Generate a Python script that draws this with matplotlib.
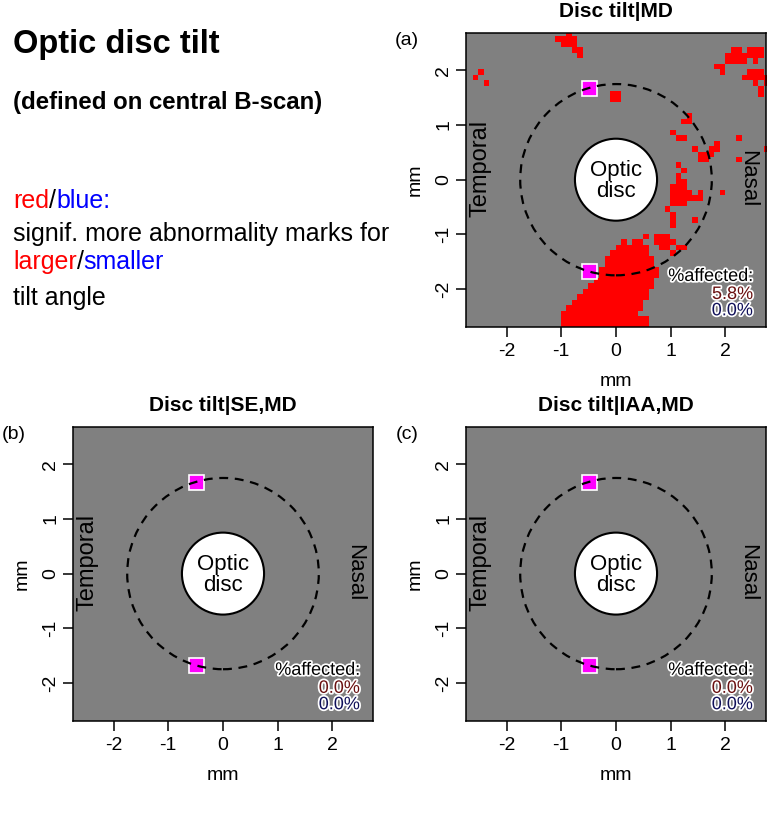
import numpy as np
import matplotlib

matplotlib.use("Agg")
import matplotlib.pyplot as plt  # noqa: E402
from matplotlib.colors import ListedColormap  # noqa: E402
from matplotlib.patches import Circle  # noqa: E402
import matplotlib.patheffects as pe  # noqa: E402

plt.rcParams["font.family"] = ["Liberation Sans", "DejaVu Sans"]

W, H = 769, 825

# panel contents
PANEL_TITLES = ["Disc tilt|MD", "Disc tilt|SE,MD", "Disc tilt|IAA,MD"]
PANEL_LABELS = ["(a)", "(b)", "(c)"]
PCT_RED = ["5.8%", "0.0%", "0.0%"]
PCT_BLUE = ["0.0%", "0.0%", "0.0%"]
TICKS = [-2, -1, 0, 1, 2]

# measurement ring, optic disc and B-scan end points (mm)
RING_RADIUS = 1.75
DISC_RADIUS = 0.75
SCAN_X = [-0.49, -0.49]
SCAN_Y = [1.67, -1.67]

# significant cells for panel (a), 0.1 mm grid: (row from top, first col, last col)
GRID_X0, GRID_Y0, CELL = -2.62, 2.71, 0.1
GRID_ROWS, GRID_COLS = 54, 56
RED_RUNS = [
    (0, 17, 17), (1, 15, 18), (2, 16, 18), (3, 18, 19), (4, 19, 19),
    (7, 1, 1), (8, 0, 0), (9, 2, 2),
    (11, 25, 26), (12, 25, 26),
    (3, 47, 48), (3, 50, 52), (4, 46, 52), (5, 46, 49), (5, 51, 51),
    (6, 44, 45), (7, 45, 45), (7, 50, 52), (8, 49, 53), (9, 51, 51),
    (9, 53, 53), (10, 52, 52), (11, 52, 52),
    (15, 39, 39), (16, 38, 39), (18, 36, 36), (19, 37, 38), (19, 48, 48),
    (20, 44, 44), (21, 40, 40), (21, 43, 44), (21, 53, 53), (22, 41, 43),
    (23, 41, 42), (23, 48, 48),
    (24, 37, 37), (25, 38, 38), (26, 37, 37), (27, 37, 38),
    (28, 36, 38), (29, 36, 39), (29, 41, 41), (29, 45, 45),
    (30, 36, 40), (30, 41, 41), (31, 36, 38), (32, 35, 35),
    (33, 36, 36), (34, 36, 36), (34, 40, 40), (35, 36, 36),
    (37, 31, 31), (37, 33, 35), (38, 33, 36), (39, 34, 35), (39, 37, 38),
    (40, 36, 36),
    (38, 27, 27), (38, 29, 30), (39, 26, 31), (40, 25, 31), (41, 24, 32),
    (42, 24, 32), (43, 23, 33), (44, 23, 33), (45, 22, 32), (46, 21, 32),
    (47, 20, 31), (48, 19, 31), (49, 18, 30), (50, 17, 30), (51, 16, 29),
    (52, 16, 31), (53, 16, 31),
]

# axes boxes in pixels: left, top, right, bottom
BOXES = [(466, 32.7, 766, 326.7), (73, 426.6, 373, 720.6), (466, 426.6, 766, 720.6)]

fig = plt.figure(figsize=(W / 100, H / 100), dpi=100)


def text_line(x, y, parts, **kw):
    """Write coloured pieces one after another on one baseline (pixels)."""
    renderer = fig.canvas.get_renderer()
    for s, color in parts:
        t = fig.text(x / W, 1 - y / H, s, color=color, va="baseline", **kw)
        x = t.get_window_extent(renderer).x1


text_line(13, 53, [("Optic disc tilt", "black")], fontsize=23.5, fontweight="bold")
text_line(13, 109, [("(defined on central B-scan)", "black")], fontsize=17.3,
          fontweight="bold")
text_line(13, 208, [("red", "red"), ("/", "black"), ("blue:", "blue")], fontsize=18)
text_line(13, 241, [("signif. more abnormality marks for", "black")], fontsize=18)
text_line(13, 269, [("larger", "red"), ("/", "black"), ("smaller", "blue")],
          fontsize=18)
text_line(13, 305, [("tilt angle", "black")], fontsize=18)

halo = [pe.withStroke(linewidth=2.5, foreground="white")]

for i, (left, top, right, bottom) in enumerate(BOXES):
    ax = fig.add_axes([left / W, 1 - bottom / H, (right - left) / W, (bottom - top) / H])
    ax.set_facecolor("#808080")

    if i == 0:
        grid = np.zeros((GRID_ROWS, GRID_COLS))
        for r, c0, c1 in RED_RUNS:
            grid[r, c0:c1 + 1] = 1
        ax.imshow(
            np.ma.masked_where(grid == 0, grid),
            cmap=ListedColormap(["#ff0000"]),
            extent=(GRID_X0, GRID_X0 + GRID_COLS * CELL,
                    GRID_Y0 - GRID_ROWS * CELL, GRID_Y0),
            origin="upper", interpolation="nearest", aspect="auto", zorder=1,
        )

    ax.add_patch(Circle((0, 0), DISC_RADIUS, fc="white", ec="black", lw=1.5, zorder=3))
    ax.plot(SCAN_X, SCAN_Y, "s", ms=10.8, mfc="#ff00ff", mec="white", mew=1.2,
            zorder=3.5)
    ax.add_patch(Circle((0, 0), RING_RADIUS, fill=False, ec="black", lw=1.6,
                        ls=(0, (4, 3)), zorder=4))

    ax.text(0, -0.02, "Optic\ndisc", ha="center", va="center", fontsize=16,
            linespacing=1.0, zorder=5)
    ax.text(-2.47, 0.2, "Temporal", rotation=90, ha="center", va="center",
            fontsize=17)
    ax.text(2.4, 0.02, "Nasal", rotation=-90, ha="center", va="center",
            fontsize=16)

    ax.text(2.5, -1.77, "%affected:", ha="right", va="center", fontsize=13,
            color="black", path_effects=halo, zorder=6)
    ax.text(2.5, -2.1, PCT_RED[i], ha="right", va="center", fontsize=13,
            color="#6a1010", path_effects=halo, zorder=6)
    ax.text(2.5, -2.4, PCT_BLUE[i], ha="right", va="center", fontsize=13,
            color="#10105a", path_effects=halo, zorder=6)

    ax.set_xlim(-2.74, 2.74)
    ax.set_ylim(-2.69, 2.69)
    ax.set_xticks(TICKS)
    ax.set_yticks(TICKS)
    ax.set_xticklabels([str(t) for t in TICKS])
    ax.set_yticklabels([str(t) for t in TICKS], rotation=90, va="center")
    ax.tick_params(direction="out", length=7, width=1.1, labelsize=14)
    ax.tick_params(axis="x", pad=5)
    ax.tick_params(axis="y", pad=3)
    for sp in ax.spines.values():
        sp.set_linewidth(1.1)
    ax.set_xlabel("mm", fontsize=14, labelpad=9)
    ax.set_ylabel("mm", fontsize=14, labelpad=8)
    ax.set_title(PANEL_TITLES[i], fontsize=15, fontweight="bold", pad=11)

    fig.text((left - 59) / W, 1 - (top + 8) / H, PANEL_LABELS[i], ha="center",
             va="center", fontsize=14)

fig.savefig("out.png", dpi=100)
